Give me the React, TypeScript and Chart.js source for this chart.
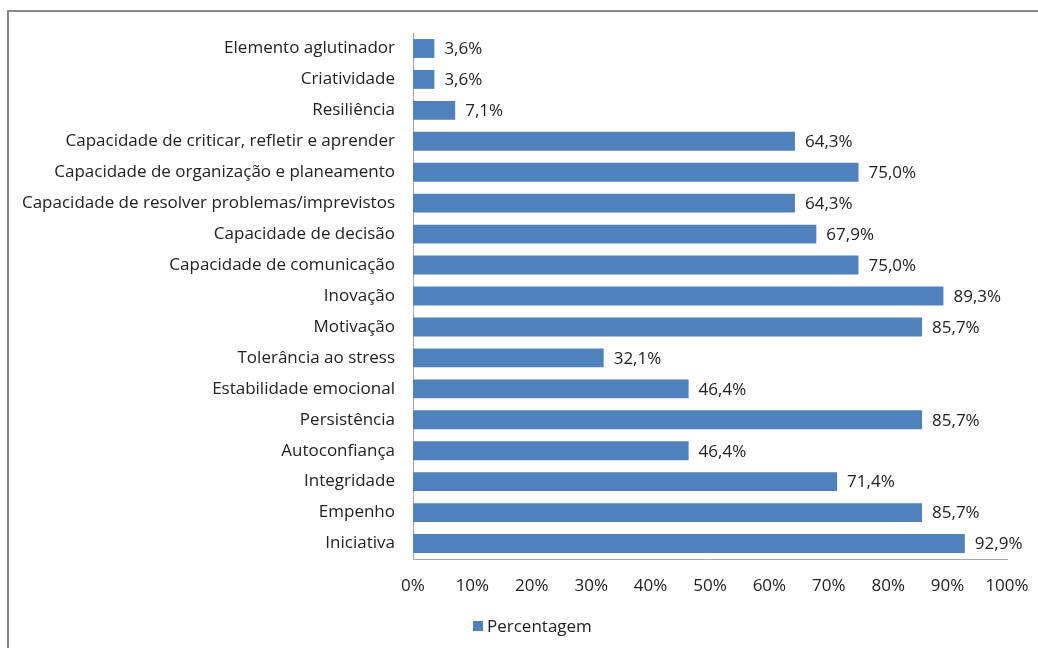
import React, { useEffect, useRef } from "react";
import { Chart, registerables } from "chart.js";

Chart.register(...registerables);

const categories: string[] = [
  "Elemento aglutinador",
  "Criatividade",
  "Resiliência",
  "Capacidade de criticar, refletir e aprender",
  "Capacidade de organização e planeamento",
  "Capacidade de resolver problemas/imprevistos",
  "Capacidade de decisão",
  "Capacidade de comunicação",
  "Inovação",
  "Motivação",
  "Tolerância ao stress",
  "Estabilidade emocional",
  "Persistência",
  "Autoconfiança",
  "Integridade",
  "Empenho",
  "Iniciativa",
];

const percentages: number[] = [
  3.6, 3.6, 7.1, 64.3, 75.0, 64.3, 67.9, 75.0, 89.3, 85.7, 32.1, 46.4, 85.7, 46.4, 71.4, 85.7, 92.9,
];

const seriesName = "Percentagem";
const xTicks: number[] = [0, 10, 20, 30, 40, 50, 60, 70, 80, 90, 100];

const FONT = "'Open Sans', Lato, sans-serif";
const FONT_SIZE = 17;
const BAR_COLOR = "#4F81BD";

const valueLabels = {
  id: "valueLabels",
  afterDatasetsDraw(chart: any) {
    const ctx = chart.ctx;
    const meta = chart.getDatasetMeta(0);
    ctx.save();
    ctx.font = `${FONT_SIZE}px ${FONT}`;
    ctx.fillStyle = "#222";
    ctx.textAlign = "left";
    ctx.textBaseline = "middle";
    meta.data.forEach((bar: any, i: number) => {
      const v = percentages[i];
      const txt = v.toFixed(1).replace(".", ",") + "%";
      ctx.fillText(txt, bar.x + 10, bar.y + 1);
    });
    ctx.restore();
  },
};

export default function App() {
  const canvasRef = useRef<HTMLCanvasElement>(null);

  useEffect(() => {
    const canvas = canvasRef.current;
    if (!canvas) return;
    const chart = new Chart(canvas, {
      type: "bar",
      data: {
        labels: categories,
        datasets: [
          {
            label: seriesName,
            data: percentages,
            backgroundColor: BAR_COLOR,
            borderWidth: 0,
            categoryPercentage: 1,
            barPercentage: 0.61,
          },
        ],
      },
      options: {
        indexAxis: "y",
        animation: false,
        responsive: false,
        maintainAspectRatio: false,
        layout: { padding: { top: 33, right: 31, bottom: 0, left: 0 } },
        plugins: {
          legend: { display: false },
          tooltip: { enabled: false },
        },
        scales: {
          x: {
            min: 0,
            max: 100,
            afterBuildTicks(scale: any) {
              scale.ticks = xTicks.map((v) => ({ value: v }));
            },
            afterFit(scale: any) {
              scale.height = 89;
              scale.paddingLeft = 0;
              scale.paddingRight = 0;
            },
            grid: { display: false, drawTicks: false },
            border: { display: true, color: "#A6A6A6", width: 1 },
            ticks: {
              padding: 17,
              color: "#222",
              font: { family: FONT, size: FONT_SIZE },
              callback: (v: any) => `${v}%`,
              maxRotation: 0,
            },
          },
          y: {
            afterFit(scale: any) {
              scale.width = 413;
              scale.paddingTop = 0;
              scale.paddingBottom = 0;
            },
            grid: { display: false, drawTicks: false },
            border: { display: true, color: "#A6A6A6", width: 1 },
            ticks: {
              padding: 18,
              color: "#222",
              font: { family: FONT, size: FONT_SIZE },
              autoSkip: false,
            },
          },
        },
      },
      plugins: [valueLabels],
    });
    return () => chart.destroy();
  }, []);

  return (
    <div>
      <div
        style={{
          position: "fixed",
          left: 7,
          top: 10,
          width: 1200,
          height: 800,
          border: "2px solid #888",
          boxSizing: "border-box",
        }}
      />
      <canvas
        ref={canvasRef}
        width={1038}
        height={648}
        style={{ position: "fixed", left: 0, top: 0, width: 1038, height: 648 }}
      />
      <div
        style={{
          position: "fixed",
          left: 473,
          top: 614,
          display: "flex",
          alignItems: "center",
          fontFamily: FONT,
          fontSize: FONT_SIZE,
          color: "#222",
        }}
      >
        <span
          style={{
            display: "inline-block",
            width: 10,
            height: 10,
            background: BAR_COLOR,
            marginRight: 4,
          }}
        />
        <span>{seriesName}</span>
      </div>
    </div>
  );
}
